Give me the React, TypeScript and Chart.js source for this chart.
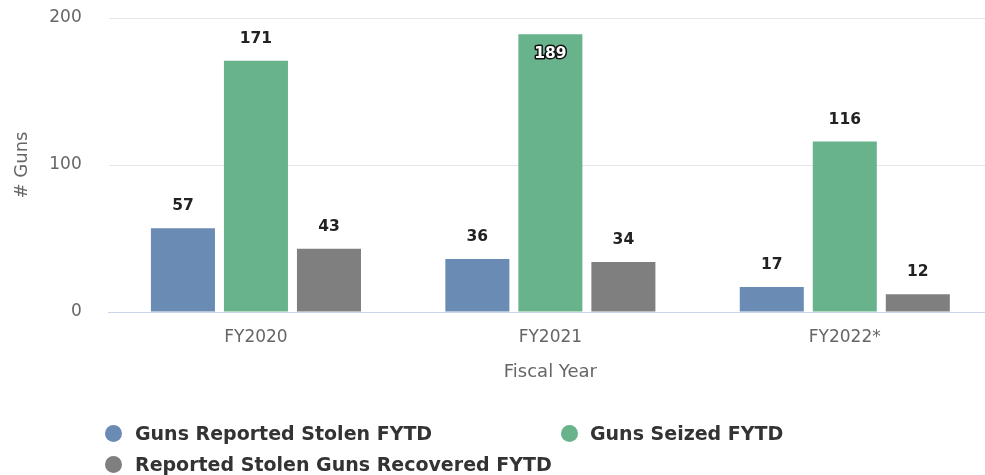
import React, { useEffect, useRef } from "react";
import { Chart, registerables } from "chart.js";

Chart.register(...registerables);

const categories = ["FY2020", "FY2021", "FY2022*"];
const reportedStolen = [57, 36, 17];
const seized = [171, 189, 116];
const recovered = [43, 34, 12];
const seriesNames = [
  "Guns Reported Stolen FYTD",
  "Guns Seized FYTD",
  "Reported Stolen Guns Recovered FYTD",
];
const seriesColors = ["#6a8bb3", "#68b38c", "#7f7f7f"];
const yTicks = [0, 100, 200];

const FONT = "'DejaVu Sans', 'Open Sans', sans-serif";

const labelPlugin = {
  id: "valueLabels",
  afterDatasetsDraw(chart: any) {
    const ctx = chart.ctx;
    const area = chart.chartArea;
    ctx.save();
    ctx.font = `bold 15.5px ${FONT}`;
    ctx.textAlign = "center";
    ctx.textBaseline = "middle";
    chart.data.datasets.forEach((ds: any, di: number) => {
      const meta = chart.getDatasetMeta(di);
      meta.data.forEach((bar: any, i: number) => {
        const v = ds.data[i];
        const txt = String(v);
        let y = bar.y - 22;
        if (y - 10 < area.top) {
          y = bar.y + 20;
          ctx.lineWidth = 3;
          ctx.lineJoin = "round";
          ctx.strokeStyle = "#111";
          ctx.strokeText(txt, bar.x, y);
          ctx.fillStyle = "#ffffff";
          ctx.fillText(txt, bar.x, y);
        } else {
          ctx.fillStyle = "#222";
          ctx.fillText(txt, bar.x, y);
        }
      });
    });
    ctx.restore();
  },
};

const titlePlugin = {
  id: "axisTitles",
  afterDraw(chart: any) {
    const ctx = chart.ctx;
    const a = chart.chartArea;
    ctx.save();
    ctx.fillStyle = "#666";
    ctx.textAlign = "center";
    ctx.textBaseline = "middle";
    ctx.font = `18px ${FONT}`;
    ctx.fillText("Fiscal Year", (a.left + a.right) / 2, 372);
    ctx.translate(22, (a.top + a.bottom) / 2);
    ctx.rotate(-Math.PI / 2);
    ctx.fillText("# Guns", 0, 0);
    ctx.restore();
  },
};

export default function App() {
  const ref = useRef<HTMLCanvasElement>(null);
  useEffect(() => {
    if (!ref.current) return;
    const chart = new Chart(ref.current, {
      type: "bar",
      data: {
        labels: categories,
        datasets: [reportedStolen, seized, recovered].map((d, i) => ({
          label: seriesNames[i],
          data: d,
          backgroundColor: seriesColors[i],
          borderWidth: 0,
          categoryPercentage: 0.744,
          barPercentage: 0.877,
        })),
      },
      options: {
        responsive: false,
        animation: false,
        layout: { padding: { left: 0, right: 8, top: 0, bottom: 0 } },
        plugins: { legend: { display: false }, tooltip: { enabled: false } },
        scales: {
          x: {
            grid: { display: false, drawTicks: false },
            border: { display: true, color: "#ccd6eb", width: 1 },
            ticks: {
              color: "#666",
              font: { family: FONT, size: 17 },
              padding: 15,
            },
            afterFit: (s: any) => {
              s.height = 163;
            },
          },
          y: {
            min: 0,
            max: 200,
            afterBuildTicks: (s: any) => {
              s.ticks = yTicks.map((v) => ({ value: v }));
            },
            grid: {
              color: (c: any) => (c.tick && c.tick.value === 0 ? "#ccd6eb" : "#e6e6e6"),
              drawTicks: false,
              lineWidth: 1,
            },
            border: { display: false },
            ticks: {
              color: "#666",
              font: { family: FONT, size: 17 },
              padding: 27,
            },
            afterFit: (s: any) => {
              s.width = 108.75;
              s.paddingTop = 18;
              s.paddingBottom = 0;
            },
          },
        },
      },
      plugins: [labelPlugin, titlePlugin],
    });
    return () => chart.destroy();
  }, []);

  const legendText: React.CSSProperties = {
    position: "absolute",
    fontFamily: FONT,
    fontWeight: "bold",
    fontSize: 19,
    color: "#333",
    lineHeight: "22px",
    whiteSpace: "nowrap",
  };
  const dot = (color: string, cx: number, cy: number): React.CSSProperties => ({
    position: "absolute",
    left: cx - 8.5,
    top: cy - 8.5,
    width: 17,
    height: 17,
    borderRadius: "50%",
    background: color,
  });

  return (
    <div
      style={{
        position: "absolute",
        left: 0,
        top: 0,
        width: 985,
        height: 475,
        overflow: "hidden",
        background: "#fff",
      }}
    >
      <canvas ref={ref} width={1000} height={475} style={{ position: "absolute", left: 0, top: 0 }} />
      <div style={dot(seriesColors[0], 113, 433)} />
      <div style={{ ...legendText, left: 135, top: 422 }}>{seriesNames[0]}</div>
      <div style={dot(seriesColors[1], 569, 433)} />
      <div style={{ ...legendText, left: 590, top: 422 }}>{seriesNames[1]}</div>
      <div style={dot(seriesColors[2], 113, 464)} />
      <div style={{ ...legendText, left: 135, top: 453 }}>{seriesNames[2]}</div>
    </div>
  );
}
